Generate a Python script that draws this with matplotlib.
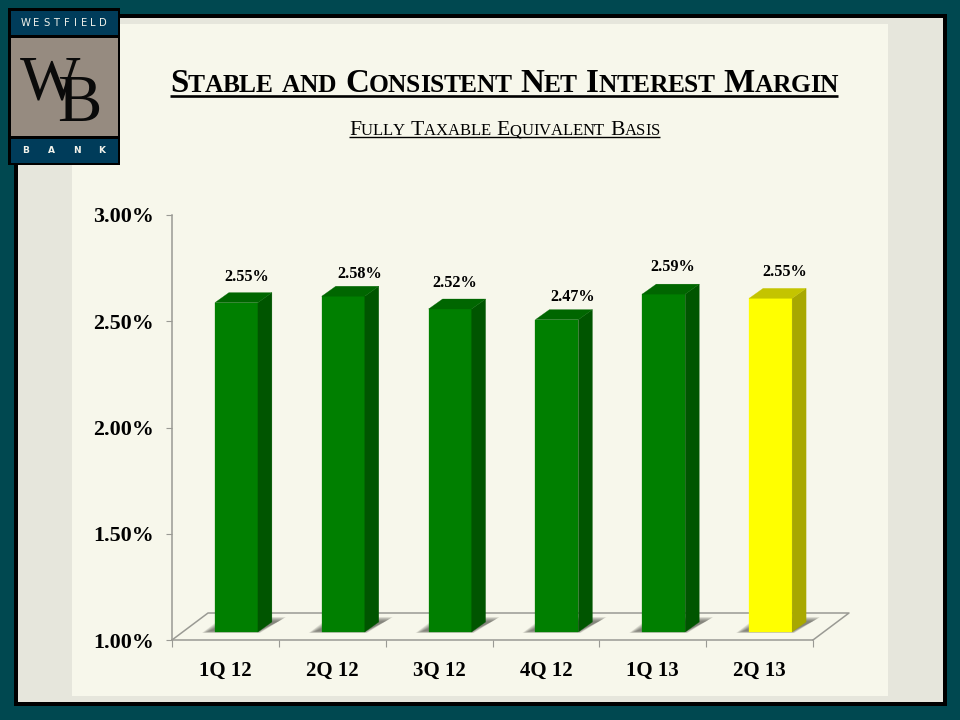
import matplotlib
matplotlib.use("Agg")
import matplotlib.pyplot as plt
from matplotlib.patches import Polygon, Rectangle

# ---- data ----
categories = ["1Q 12", "2Q 12", "3Q 12", "4Q 12", "1Q 13", "2Q 13"]
bar_values = [2.55, 2.58, 2.52, 2.47, 2.59, 2.57]
value_labels = ["2.55%", "2.58%", "2.52%", "2.47%", "2.59%", "2.55%"]
y_ticks = [1.0, 1.5, 2.0, 2.5, 3.0]
title_text = "Stable and Consistent Net Interest Margin"
subtitle_text = "Fully Taxable Equivalent Basis"

# ---- styling / layout ----
SERIF = "Liberation Serif"
W, H = 960, 720
TEAL, BLACK, PANEL, CREAM = "#004850", "#000000", "#E6E6DC", "#F7F7EB"
NAVY, TAUPE = "#003C5A", "#968B80"
GREEN = ("#007F00", "#005500", "#006600")
YELLOW = ("#FFFF00", "#A8A800", "#C4C400")
AXIS = "#9A9A94"
bar_styles = [GREEN, GREEN, GREEN, GREEN, GREEN, YELLOW]
label_pos_px = [(247, 277), (360, 274), (455, 283), (573, 297), (673, 267), (785, 272)]

fig = plt.figure(figsize=(9.6, 7.2), dpi=100, facecolor=TEAL)

# page layer in pixel coordinates
bg = fig.add_axes([0, 0, 1, 1], zorder=0)
bg.set_xlim(0, W); bg.set_ylim(H, 0); bg.axis("off")


def rect(a, x0, y0, x1, y1, color, z=1):
    a.add_patch(Rectangle((x0, y0), x1 - x0, y1 - y0, fc=color, ec="none", zorder=z))


rect(bg, 14, 14, 947, 706, BLACK)
rect(bg, 18, 18, 943, 702, PANEL)
rect(bg, 72, 24, 888, 696, CREAM)

# chart axes: pixel box x 172..813, y 215..640
ax = fig.add_axes([172 / W, 1 - 640 / H, 641 / W, 425 / H], zorder=2)
ax.patch.set_alpha(0)
ax.set_xlim(-0.5, 5.5)
ax.set_ylim(1, 3)
PX = 6 / 641   # data units per pixel, x
PY = 2 / 425   # data units per pixel, y

for s in ("top", "right"):
    ax.spines[s].set_visible(False)
for s in ("left", "bottom"):
    ax.spines[s].set_color(AXIS)
    ax.spines[s].set_linewidth(1.1)

ax.set_yticks(y_ticks)
ax.set_yticklabels([f"{v:.2f}%" for v in y_ticks], fontfamily=SERIF,
                   fontweight="bold", fontsize=15.8, color="black", va="center_baseline")
ax.set_xticks(range(len(categories)))
ax.set_xticklabels(categories, fontfamily=SERIF, fontweight="bold",
                   fontsize=15, color="black")
ax.set_xticks([i - 0.5 for i in range(len(categories) + 1)], minor=True)
ax.tick_params(axis="x", which="major", length=0, pad=15)
ax.tick_params(axis="x", which="minor", length=5, color=AXIS, width=0.8)
ax.tick_params(axis="y", length=4, color=AXIS, width=0.8, pad=9)

# floor
fdx, fdy = 36 * PX, 27 * PY
ax.plot([-0.5, -0.5 + fdx, 5.5 + fdx, 5.5], [1, 1 + fdy, 1 + fdy, 1],
        color=AXIS, lw=1.1, clip_on=False, zorder=2)

# bars
bw = 43 * PX
sx, sy = 11 * PX, 8 * PY      # shift of the bar front from the axis plane
ddx, ddy = 14 * PX, 10 * PY   # bar depth
for i, (v, st) in enumerate(zip(bar_values, bar_styles)):
    xl = i + sx - bw / 2
    xr = xl + bw
    y0 = 1 + sy
    y1 = v + sy
    # soft shadow on the floor: stacked layers, each inset from the last
    for k in range(9):
        g = k * 0.9
        ax.add_patch(Polygon(
            [(xl + (g - 13) * PX, y0 + (g * 0.25 - 1) * PY),
             (xr + (2 - g * 0.3) * PX, y0 + (g * 0.25 - 1) * PY),
             (xr + (28 - g) * PX, y0 + (15 - g * 0.6) * PY),
             (xl + (8 + g) * PX, y0 + (15 - g * 0.6) * PY)],
            fc="#55554E", ec="none", alpha=0.12, clip_on=False, zorder=3))
    ax.bar(xl + bw / 2, v - 1, bottom=y0, width=bw, color=st[0],
           edgecolor=st[0], lw=0.2, clip_on=False, zorder=5)
    ax.add_patch(Polygon([(xr, y0), (xr + ddx, y0 + ddy), (xr + ddx, y1 + ddy), (xr, y1)],
                         fc=st[1], ec=st[1], lw=0.2, clip_on=False, zorder=5))
    ax.add_patch(Polygon([(xl, y1), (xr, y1), (xr + ddx, y1 + ddy), (xl + ddx, y1 + ddy)],
                         fc=st[2], ec=st[2], lw=0.2, clip_on=False, zorder=5))

# value labels (hand-placed in the source)
top = fig.add_axes([0, 0, 1, 1], zorder=3)
top.set_xlim(0, W); top.set_ylim(H, 0); top.axis("off")
for lab, (px, py) in zip(value_labels, label_pos_px):
    top.text(px, py, lab, ha="center", va="center", fontfamily=SERIF,
             fontweight="bold", fontsize=11.7, color="black")


# small-caps headings, real text laid out piece by piece
def small_caps(a, s, x0, x1, base, big, small, weight, ul_y, ul_lw):
    rnd = fig.canvas.get_renderer()
    runs = [(ch.upper(), big if ch.isupper() else small) for ch in s]

    def width(ch, size):
        if ch == " ":
            return big * 0.3 * 100 / 72
        t = a.text(0, 0, ch, fontfamily=SERIF, fontsize=size, fontweight=weight)
        w = t._get_layout(rnd)[0].width
        t.remove()
        return w

    widths = [width(c, z) for c, z in runs]
    gap = ((x1 - x0) - sum(widths)) / (len(runs) - 1)
    x = x0
    for (c, z), w in zip(runs, widths):
        if c != " ":
            a.text(x, base, c, fontfamily=SERIF, fontsize=z, fontweight=weight,
                   ha="left", va="baseline", color="black")
        x += w + gap
    a.plot([x0, x1], [ul_y, ul_y], color="black", lw=ul_lw, solid_capstyle="butt")


small_caps(top, title_text, 170, 838, 92, 23.8, 18.4, "bold", 96, 1.9)
small_caps(top, subtitle_text, 349, 660, 135, 15.6, 12, "normal", 137, 1.0)

# logo
rect(top, 8, 8, 120, 165, BLACK)
rect(top, 10.5, 11, 117.5, 34.5, NAVY, 2)
rect(top, 10.5, 37.5, 117.5, 135.5, TAUPE, 2)
rect(top, 10.5, 139, 117.5, 163, NAVY, 2)
for ch, x in zip("WESTFIELD", [26, 36.5, 46.5, 56.5, 67, 75.5, 84, 93, 103]):
    top.text(x, 22.5, ch, ha="center", va="center", color="#F2F2EA",
             fontfamily="DejaVu Sans", fontsize=7.2, zorder=4)
for ch, x in zip("BANK", [26, 51, 77, 102]):
    top.text(x, 150.5, ch, ha="center", va="center", color="#F2F2EA",
             fontfamily="DejaVu Sans", fontweight="bold", fontsize=6.5, zorder=4)
top.text(50, 99, "W", ha="center", va="baseline", color="#0A0A0A",
         fontfamily=SERIF, fontsize=46, zorder=4)
top.text(79, 121, "B", ha="center", va="baseline", color="#0A0A0A",
         fontfamily=SERIF, fontsize=48, zorder=5)

fig.savefig("out.png", dpi=100, facecolor=fig.get_facecolor())
